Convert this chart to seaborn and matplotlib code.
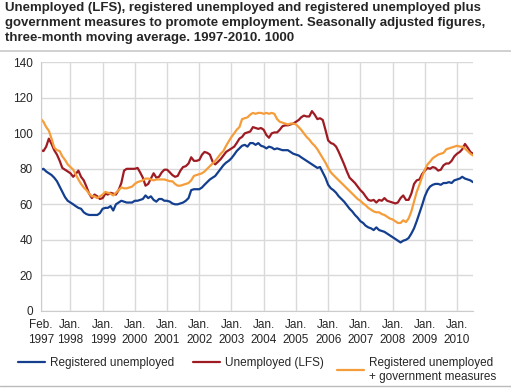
import pandas as pd
import matplotlib.pyplot as plt
import matplotlib.dates as mdates
import seaborn as sns
from matplotlib.lines import Line2D

title = ("Unemployed (LFS), registered unemployed and registered unemployed plus\n"
         "government measures to promote employment. Seasonally adjusted figures,\n"
         "three-month moving average. 1997-2010. 1000")

# monthly values, Feb 1997 - Jul 2010 (1000 persons)
registered = [
    79.5, 80, 78.5, 77.5, 76.5, 75, 73, 70, 67, 64, 62,
    61, 60, 59, 58, 57.5, 55.5, 54.5, 54, 54, 54, 54, 55,
    57.5, 58, 58, 59, 56.5, 60, 61, 62, 61.5, 61, 61, 61,
    62, 62, 62.5, 63, 65, 63.5, 64.5, 62.5, 61.5, 63, 63, 62,
    62, 61.5, 60.5, 60, 60, 60.5, 61, 62, 63.5, 68, 68.5, 68.5,
    68.5, 69.5, 71, 72.5, 74, 75, 76, 78, 80, 82, 83.5, 84.5,
    86, 88, 90, 91.5, 93, 93.5, 92.5, 94.5, 94.5, 93.5, 94.5, 93,
    92.5, 91.5, 92.5, 92, 91, 91.5, 91, 90.5, 90.5, 90.5, 89.5, 88.5,
    88, 87.5, 86.5, 85.5, 84.5, 83.5, 82.5, 81.5, 80.5, 81, 78, 75,
    71, 69, 68, 66.5, 64.5, 63, 61.5, 59.5, 57.5, 56, 54, 52.5,
    50.5, 49.5, 48, 47, 46.5, 45.5, 47, 45.5, 45, 44.5, 43.5, 42.5,
    41.5, 40.5, 39.5, 38.5, 39.5, 40, 41, 43.5, 46.5, 50.5, 55, 59.5,
    64.5, 68, 70, 71, 71.5, 71.5, 71, 72, 72, 72.5, 72, 73.5,
    74, 74.5, 75.5, 74.5, 74, 73.5, 72.5,
]
lfs = [
    90.5, 90, 92.5, 97, 94, 90.5, 88, 84.5, 80.5, 79.5, 78.5,
    77.5, 75.5, 77, 79, 75.5, 73.5, 70, 66, 63.5, 65.5, 64.5, 63,
    63.5, 66, 65.5, 66.5, 66, 65.5, 68, 72, 79, 80, 80, 80,
    80, 80.5, 78, 75, 70.5, 71.5, 74.5, 77.5, 75, 75.5, 78, 79.5,
    79.5, 78, 76.5, 75.5, 76, 79, 81, 81.5, 83, 86.5, 84.5, 84.5,
    85, 88, 89.5, 89, 88, 84, 82.5, 84, 85.5, 87.5, 89.5, 90.5,
    91.5, 92.5, 94.5, 97, 98, 100, 100.5, 101, 103.5, 103, 102.5, 103,
    102, 99, 97.5, 100, 100.5, 100.5, 102, 104, 104.5, 104.5, 105, 105.5,
    106.5, 107.5, 109, 110, 109.5, 109.5, 112.5, 110.5, 108, 108.5, 107.5, 102,
    96, 94.5, 94, 92.5, 89.5, 86, 82.5, 78.5, 75, 73.5, 72, 70,
    68, 66.5, 64.5, 62.5, 62, 62.5, 61, 62.5, 62, 63.5, 62, 61.5,
    61, 60.5, 61, 63.5, 65, 62.5, 62.5, 66, 71.5, 73.5, 74, 77,
    79, 80.5, 80, 81, 80.5, 79, 79.5, 82, 83, 83, 84.5, 87,
    88.5, 89.5, 91, 94, 92, 89.5, 88.5,
]
reg_plus_measures = [
    108, 106.5, 103.5, 101.5, 97, 92, 90.5, 90, 87, 85, 82.5,
    81, 79.5, 77, 74, 71.5, 69.5, 68, 66, 64.5, 64.5, 63.5, 64.5,
    65.5, 67, 66.5, 66, 65, 66.5, 68, 69.5, 69, 69, 69.5, 70,
    71.5, 72.5, 73, 73.5, 74.5, 74.5, 74, 73.5, 74, 74, 74, 74,
    73.5, 73, 73, 71.5, 70.5, 70.5, 71, 71.5, 72, 73.5, 76, 76.5,
    77, 77.5, 78.5, 80, 81.5, 83, 84.5, 86.5, 88.5, 90, 93, 95.5,
    98, 100, 102, 103.5, 108, 108.5, 109, 110.5, 111.5, 111, 111.5, 111.5,
    111, 111.5, 111, 111.5, 111, 108, 106.5, 106, 105.5, 105, 105.5, 105.5,
    105, 103.5, 102, 100, 98, 96.5, 94.5, 93, 91, 88.5, 86, 83.5,
    80.5, 78, 76.5, 75, 73.5, 72, 70.5, 69, 67.5, 66, 64.5, 63,
    62, 60.5, 59.5, 58, 57, 56, 55.5, 55.5, 54.5, 54, 53, 52,
    51.5, 50.5, 49.5, 49.5, 51, 50, 52, 56, 61.5, 67, 71, 75.5,
    79.5, 82.5, 84, 86, 87, 88, 88.5, 89, 91, 91.5, 92, 92.5,
    93, 92.5, 92.5, 91.5, 90, 88.5, 87.5,
]

series_names = ["Registered unemployed", "Unemployed (LFS)",
                "Registered unemployed\n+ government measures"]
colors = ["#143f8f", "#9e1b23", "#f59d3a"]
y_ticks = [0, 20, 40, 60, 80, 100, 120, 140]
tick_years = list(range(1997, 2011))

months = pd.date_range("1997-02-01", periods=len(registered), freq="MS")
df = pd.DataFrame({"month": months,
                   series_names[0]: registered,
                   series_names[1]: lfs,
                   series_names[2]: reg_plus_measures})
df = df.melt(id_vars="month", var_name="series", value_name="value")

sns.set_style("white")
plt.rcParams["font.family"] = ["Liberation Sans", "DejaVu Sans"]

fig = plt.figure(figsize=(5.11, 3.89), dpi=100)
ax = fig.add_axes([0.0802, 0.201, 0.8454, 0.6388])

sns.lineplot(data=df, x="month", y="value", hue="series", hue_order=series_names,
             palette=colors, linewidth=1.6, ax=ax, legend=False)

# axes
xt = [pd.Timestamp("1997-02-01")] + [pd.Timestamp(f"{y}-01-01") for y in tick_years[1:]]
xl = ["Feb.\n1997"] + [f"Jan.\n{y}" for y in tick_years[1:]]
ax.set_xticks(xt)
ax.set_xticklabels(xl, fontsize=8.5, linespacing=1.3)
ax.xaxis.set_minor_locator(mdates.MonthLocator())
ax.set_xlim(months[0], months[-1])
ax.set_ylim(0, 140)
ax.set_yticks(y_ticks)
ax.tick_params(axis="y", length=0, pad=6, labelsize=8.5)
ax.tick_params(axis="x", which="both", direction="in", length=4, color="#cccccc", pad=6)
ax.set_xlabel("")
ax.set_ylabel("")
ax.grid(True, color="#d9d9d9", linewidth=1)
ax.set_axisbelow(True)
for s in ["top", "right"]:
    ax.spines[s].set_visible(False)
for s in ["left", "bottom"]:
    ax.spines[s].set_color("#cccccc")

fig.text(0.01, 0.994, title, ha="left", va="top", fontsize=9.5,
         fontweight="bold", linespacing=1.3)
# grey rule under the title
fig.add_artist(Line2D([0, 1], [0.869, 0.869], color="#c8c8c8", linewidth=1.2,
                      transform=fig.transFigure))

# one legend per entry, placed like the reference
leg_x = [0.0352, 0.3777, 0.6595]
for name, c, x in zip(series_names, colors, leg_x):
    fig.legend([Line2D([], [], color=c, linewidth=1.6)], [name],
               loc="upper left", bbox_to_anchor=(x, 0.083), frameon=False,
               fontsize=8.5, handlelength=2.3, handletextpad=0.4,
               borderpad=0, borderaxespad=0)
fig.add_artist(Line2D([0, 1], [0.008, 0.008], color="#bbbbbb", linewidth=1,
                      transform=fig.transFigure))

fig.savefig("out.png", dpi=100)
